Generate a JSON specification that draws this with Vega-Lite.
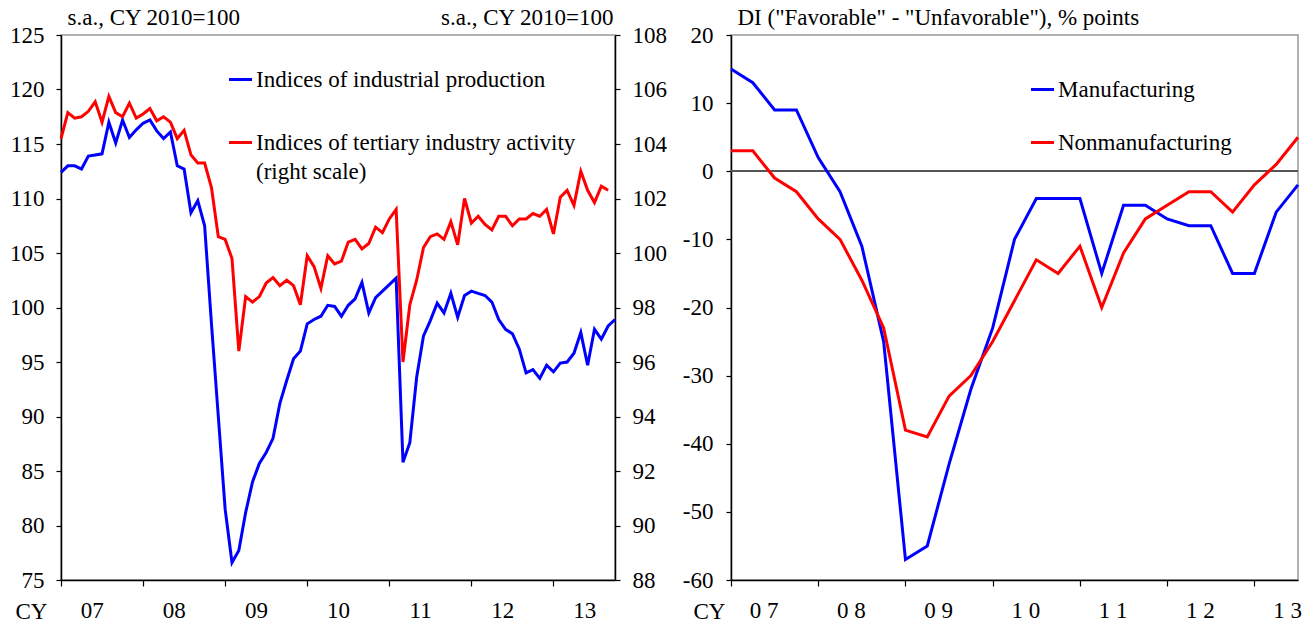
{
  "$schema": "https://vega.github.io/schema/vega-lite/v6.json",
  "padding": {"left": 8, "top": 5, "right": 5, "bottom": 5},
  "spacing": 13,
  "config": {
    "font": "Liberation Serif",
    "view": {"stroke": "#999999", "strokeWidth": 1.5},
    "axis": {
      "grid": false,
      "domainColor": "black",
      "domainWidth": 1.5,
      "tickColor": "black",
      "tickWidth": 1.2,
      "tickSize": 5,
      "labelColor": "black",
      "labelFont": "Liberation Serif",
      "labelFontSize": 23,
      "titleFont": "Liberation Serif",
      "titleFontSize": 23,
      "titleFontWeight": "normal",
      "titleColor": "black"
    },
    "legend": {
      "labelFont": "Liberation Serif",
      "labelFontSize": 23,
      "labelColor": "black",
      "symbolType": "stroke",
      "symbolStrokeWidth": 3,
      "symbolSize": 530,
      "labelLimit": 600,
      "padding": 0,
      "labelOffset": 2
    }
  },
  "resolve": {"scale": {"color": "independent"}, "legend": {"color": "independent"}},
  "hconcat": [
    {
      "width": 554,
      "height": 545,
      "data": {"values": [
        {"t":0,"ip":112.4,"tia":104.2},{"t":1,"ip":113.0,"tia":105.15},{"t":2,"ip":113.0,"tia":104.95},{"t":3,"ip":112.7,"tia":105.0},
        {"t":4,"ip":113.9,"tia":105.2},{"t":5,"ip":114.0,"tia":105.55},{"t":6,"ip":114.1,"tia":104.8},{"t":7,"ip":117.0,"tia":105.75},
        {"t":8,"ip":115.1,"tia":105.15},{"t":9,"ip":117.2,"tia":105.0},{"t":10,"ip":115.6,"tia":105.5},{"t":11,"ip":116.3,"tia":104.95},
        {"t":12,"ip":116.9,"tia":105.1},{"t":13,"ip":117.2,"tia":105.3},{"t":14,"ip":116.2,"tia":104.85},{"t":15,"ip":115.5,"tia":105.0},
        {"t":16,"ip":116.1,"tia":104.8},{"t":17,"ip":113.0,"tia":104.2},{"t":18,"ip":112.7,"tia":104.5},{"t":19,"ip":108.7,"tia":103.6},
        {"t":20,"ip":109.8,"tia":103.3},{"t":21,"ip":107.5,"tia":103.3},{"t":22,"ip":98.5,"tia":102.4},{"t":23,"ip":90.0,"tia":100.6},
        {"t":24,"ip":81.5,"tia":100.5},{"t":25,"ip":76.6,"tia":99.8},{"t":26,"ip":77.7,"tia":96.4},{"t":27,"ip":81.2,"tia":98.4},
        {"t":28,"ip":84.0,"tia":98.2},{"t":29,"ip":85.7,"tia":98.4},{"t":30,"ip":86.7,"tia":98.9},{"t":31,"ip":88.0,"tia":99.1},
        {"t":32,"ip":91.2,"tia":98.8},{"t":33,"ip":93.3,"tia":99.0},{"t":34,"ip":95.3,"tia":98.8},{"t":35,"ip":96.0,"tia":98.1},
        {"t":36,"ip":98.5,"tia":99.9},{"t":37,"ip":98.9,"tia":99.5},{"t":38,"ip":99.2,"tia":98.7},{"t":39,"ip":100.2,"tia":99.9},
        {"t":40,"ip":100.1,"tia":99.6},{"t":41,"ip":99.2,"tia":99.7},{"t":42,"ip":100.2,"tia":100.4},{"t":43,"ip":100.8,"tia":100.5},
        {"t":44,"ip":102.3,"tia":100.15},{"t":45,"ip":99.5,"tia":100.35},{"t":46,"ip":100.9,"tia":100.95},{"t":47,"ip":101.5,"tia":100.75},
        {"t":48,"ip":102.1,"tia":101.25},{"t":49,"ip":102.7,"tia":101.6},{"t":50,"ip":85.8,"tia":96.0},{"t":51,"ip":87.6,"tia":98.1},
        {"t":52,"ip":93.6,"tia":99.0},{"t":53,"ip":97.4,"tia":100.2},{"t":54,"ip":98.8,"tia":100.6},{"t":55,"ip":100.4,"tia":100.7},
        {"t":56,"ip":99.5,"tia":100.5},{"t":57,"ip":101.3,"tia":101.15},{"t":58,"ip":99.1,"tia":100.3},{"t":59,"ip":101.1,"tia":102.0},
        {"t":60,"ip":101.5,"tia":101.1},{"t":61,"ip":101.3,"tia":101.35},{"t":62,"ip":101.1,"tia":101.05},{"t":63,"ip":100.5,"tia":100.85},
        {"t":64,"ip":98.9,"tia":101.35},{"t":65,"ip":98.0,"tia":101.35},{"t":66,"ip":97.6,"tia":101.0},{"t":67,"ip":96.2,"tia":101.25},
        {"t":68,"ip":94.0,"tia":101.25},{"t":69,"ip":94.3,"tia":101.45},{"t":70,"ip":93.5,"tia":101.35},{"t":71,"ip":94.7,"tia":101.6},
        {"t":72,"ip":94.1,"tia":100.7},{"t":73,"ip":94.9,"tia":102.05},{"t":74,"ip":95.0,"tia":102.3},{"t":75,"ip":95.8,"tia":101.75},
        {"t":76,"ip":97.7,"tia":103.0},{"t":77,"ip":94.7,"tia":102.3},{"t":78,"ip":98.0,"tia":101.85},{"t":79,"ip":97.1,"tia":102.45},
        {"t":80,"ip":98.3,"tia":102.3},{"t":81,"ip":98.9,"tia":null}
      ]},
      "layer": [
        {
          "mark": {"type": "line", "strokeWidth": 3, "color": "#0000FF"},
          "encoding": {
            "x": {
              "field": "t", "type": "quantitative",
              "scale": {"domain": [0, 81], "nice": false, "zero": false},
              "axis": {
                "values": [0, 4.5, 12, 16.5, 24, 28.5, 36, 40.5, 48, 52.5, 60, 64.5, 72, 76.5],
                "labelExpr": "datum.value % 12 === 0 ? '' : ['07','08','09','10','11','12','13'][floor(datum.value / 12)]",
                "tickOpacity": {"condition": {"test": "datum.value % 12 !== 0", "value": 0}, "value": 1},
                "labelOverlap": false,
                "labelFlush": false,
                "labelBound": false,
                "labelPadding": 13,
                "tickSize": 6,
                "title": "CY",
                "titleAngle": 0,
                "titleAlign": "center",
                "titleBaseline": "middle",
                "titleX": -30,
                "titleY": 31
              }
            },
            "y": {
              "field": "ip", "type": "quantitative",
              "scale": {"domain": [75, 125], "nice": false, "zero": false},
              "axis": {
                "orient": "left",
                "values": [75, 80, 85, 90, 95, 100, 105, 110, 115, 120, 125],
                "labelPadding": 12,
                "title": "s.a., CY 2010=100",
                "titleAngle": 0,
                "titleAlign": "left",
                "titleBaseline": "middle",
                "titleX": 6,
                "titleY": -18
              }
            },
            "color": {
              "datum": "Indices of industrial production", "type": "nominal",
              "scale": {"domain": ["Indices of industrial production", "Indices of tertiary industry activity"], "range": ["#0000FF", "#FF0000"]},
              "legend": {
                "orient": "none",
                "legendX": 166,
                "legendY": 31,
                "title": null,
                "rowPadding": 37,
                "labelExpr": "datum.value === 'Indices of tertiary industry activity' ? ['Indices of tertiary industry activity', '(right scale)'] : datum.label",
                "encode": {
                  "labels": {
                    "update": {
                      "lineHeight": {"value": 29}
                    }
                  }
                }
              }
            }
          }
        },
        {
          "mark": {"type": "line", "strokeWidth": 3, "color": "#FF0000"},
          "encoding": {
            "x": {"field": "t", "type": "quantitative"},
            "y": {
              "field": "tia", "type": "quantitative",
              "scale": {"domain": [88, 108], "nice": false, "zero": false},
              "axis": {
                "orient": "right",
                "values": [88, 90, 92, 94, 96, 98, 100, 102, 104, 106, 108],
                "labelPadding": 12,
                "title": "s.a., CY 2010=100",
                "titleAngle": 0,
                "titleAlign": "right",
                "titleBaseline": "middle",
                "titleX": -2,
                "titleY": -18
              }
            },
            "color": {"datum": "Indices of tertiary industry activity", "type": "nominal"}
          }
        }
      ],
      "resolve": {"scale": {"y": "independent"}}
    },
    {
      "width": 567,
      "height": 545,
      "data": {"values": [
        {"q":0,"s":"Manufacturing","v":15},{"q":1,"s":"Manufacturing","v":13},{"q":2,"s":"Manufacturing","v":9},{"q":3,"s":"Manufacturing","v":9},
        {"q":4,"s":"Manufacturing","v":2},{"q":5,"s":"Manufacturing","v":-3},{"q":6,"s":"Manufacturing","v":-11},{"q":7,"s":"Manufacturing","v":-25},
        {"q":8,"s":"Manufacturing","v":-57},{"q":9,"s":"Manufacturing","v":-55},{"q":10,"s":"Manufacturing","v":-43},{"q":11,"s":"Manufacturing","v":-32},
        {"q":12,"s":"Manufacturing","v":-23},{"q":13,"s":"Manufacturing","v":-10},{"q":14,"s":"Manufacturing","v":-4},{"q":15,"s":"Manufacturing","v":-4},
        {"q":16,"s":"Manufacturing","v":-4},{"q":17,"s":"Manufacturing","v":-15},{"q":18,"s":"Manufacturing","v":-5},{"q":19,"s":"Manufacturing","v":-5},
        {"q":20,"s":"Manufacturing","v":-7},{"q":21,"s":"Manufacturing","v":-8},{"q":22,"s":"Manufacturing","v":-8},{"q":23,"s":"Manufacturing","v":-15},
        {"q":24,"s":"Manufacturing","v":-15},{"q":25,"s":"Manufacturing","v":-6},{"q":26,"s":"Manufacturing","v":-2},
        {"q":0,"s":"Nonmanufacturing","v":3},{"q":1,"s":"Nonmanufacturing","v":3},{"q":2,"s":"Nonmanufacturing","v":-1},{"q":3,"s":"Nonmanufacturing","v":-3},
        {"q":4,"s":"Nonmanufacturing","v":-7},{"q":5,"s":"Nonmanufacturing","v":-10},{"q":6,"s":"Nonmanufacturing","v":-16},{"q":7,"s":"Nonmanufacturing","v":-23},
        {"q":8,"s":"Nonmanufacturing","v":-38},{"q":9,"s":"Nonmanufacturing","v":-39},{"q":10,"s":"Nonmanufacturing","v":-33},{"q":11,"s":"Nonmanufacturing","v":-30},
        {"q":12,"s":"Nonmanufacturing","v":-25},{"q":13,"s":"Nonmanufacturing","v":-19},{"q":14,"s":"Nonmanufacturing","v":-13},{"q":15,"s":"Nonmanufacturing","v":-15},
        {"q":16,"s":"Nonmanufacturing","v":-11},{"q":17,"s":"Nonmanufacturing","v":-20},{"q":18,"s":"Nonmanufacturing","v":-12},{"q":19,"s":"Nonmanufacturing","v":-7},
        {"q":20,"s":"Nonmanufacturing","v":-5},{"q":21,"s":"Nonmanufacturing","v":-3},{"q":22,"s":"Nonmanufacturing","v":-3},{"q":23,"s":"Nonmanufacturing","v":-6},
        {"q":24,"s":"Nonmanufacturing","v":-2},{"q":25,"s":"Nonmanufacturing","v":1},{"q":26,"s":"Nonmanufacturing","v":5}
      ]},
      "layer": [
        {
          "mark": {"type": "rule", "color": "#555555", "strokeWidth": 1.5},
          "encoding": {"y": {"datum": 0, "type": "quantitative"}}
        },
        {
          "mark": {"type": "line", "strokeWidth": 3},
          "encoding": {
            "x": {
              "field": "q", "type": "quantitative",
              "scale": {"domain": [0, 26], "nice": false, "zero": false},
              "axis": {
                "values": [0, 1.5, 4, 5.5, 8, 9.5, 12, 13.5, 16, 17.5, 20, 21.5, 24, 25.5],
                "labelExpr": "datum.value % 4 === 0 ? '' : ['0 7','0 8','0 9','1 0','1 1','1 2','1 3'][floor(datum.value / 4)]",
                "tickOpacity": {"condition": {"test": "datum.value % 4 !== 0", "value": 0}, "value": 1},
                "labelOverlap": false,
                "labelFlush": false,
                "labelBound": false,
                "labelPadding": 13,
                "tickSize": 6,
                "title": "CY",
                "titleAngle": 0,
                "titleAlign": "center",
                "titleBaseline": "middle",
                "titleX": -22,
                "titleY": 31
              }
            },
            "y": {
              "field": "v", "type": "quantitative",
              "scale": {"domain": [-60, 20], "nice": false, "zero": false},
              "axis": {
                "values": [-60, -50, -40, -30, -20, -10, 0, 10, 20],
                "labelExpr": "'' + datum.value",
                "labelPadding": 13,
                "title": "DI (\"Favorable\" - \"Unfavorable\"), % points",
                "titleAngle": 0,
                "titleAlign": "left",
                "titleBaseline": "middle",
                "titleX": 6,
                "titleY": -18
              }
            },
            "color": {
              "field": "s", "type": "nominal",
              "scale": {"domain": ["Manufacturing", "Nonmanufacturing"], "range": ["#0000FF", "#FF0000"]},
              "legend": {
                "orient": "none",
                "legendX": 298,
                "legendY": 41,
                "title": null,
                "rowPadding": 27
              }
            }
          }
        }
      ]
    }
  ]
}
